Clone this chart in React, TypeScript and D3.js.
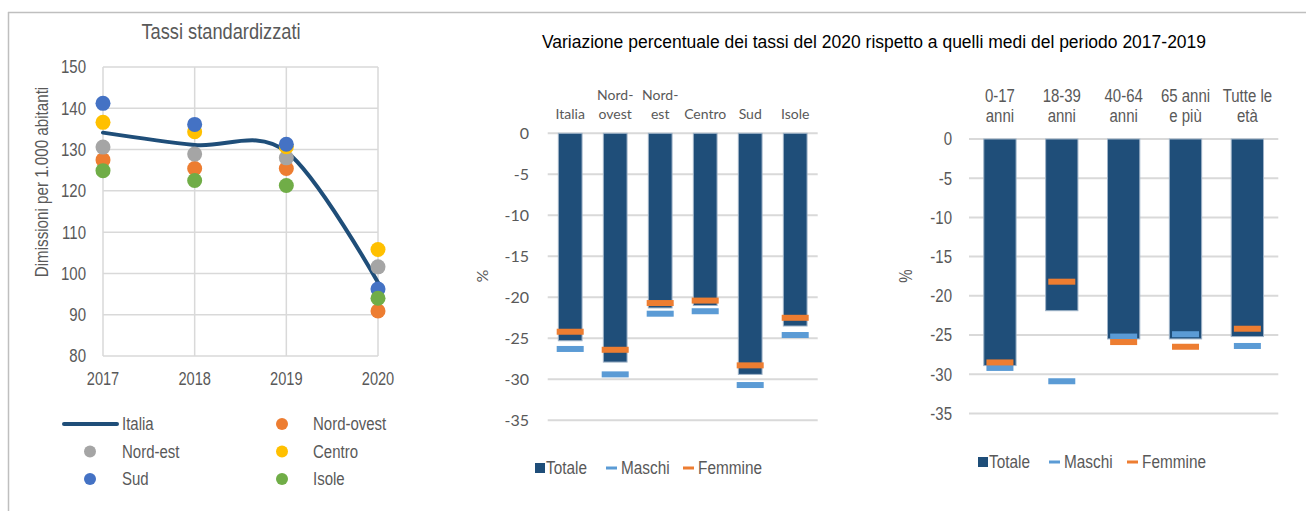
import React from 'react';
import * as d3 from 'd3';

const W = 1306;
const H = 511;

const SANS = "'Liberation Sans', Arial, sans-serif";
const CAL = "Lato, 'Open Sans', sans-serif";
const TXT = '#595959';
const GRID = '#d9d9d9';

// left chart: standardised rates
const years = [2017, 2018, 2019, 2020];
const italia = [134.1, 131.1, 129.5, 97.8];
const nordOvest = [127.5, 125.4, 125.4, 90.9];
const nordEst = [130.6, 128.9, 128.0, 101.6];
const centro = [136.6, 134.3, 130.7, 105.8];
const sud = [141.2, 136.1, 131.3, 96.2];
const isole = [124.9, 122.5, 121.3, 94.0];
const rateTicks = [80, 90, 100, 110, 120, 130, 140, 150];

const regionSeries = [
  { name: 'Nord-ovest', color: '#ed7d31', values: nordOvest },
  { name: 'Nord-est', color: '#a5a5a5', values: nordEst },
  { name: 'Centro', color: '#ffc000', values: centro },
  { name: 'Sud', color: '#4472c4', values: sud },
  { name: 'Isole', color: '#70ad47', values: isole },
];

// middle chart: % change by area
const areas = ['Italia', 'Nord-ovest', 'Nord-est', 'Centro', 'Sud', 'Isole'];
const areaLabels = [['Italia'], ['Nord-', 'ovest'], ['Nord-', 'est'], ['Centro'], ['Sud'], ['Isole']];
const areaTotale = [-25.3, -27.9, -21.3, -21.0, -29.4, -23.5];
const areaMaschi = [-26.3, -29.4, -22.0, -21.7, -30.7, -24.6];
const areaFemmine = [-24.2, -26.4, -20.7, -20.4, -28.3, -22.5];

// right chart: % change by age
const ages = ['0-17', '18-39', '40-64', '65+', 'Tutte'];
const ageLabels = [['0-17', 'anni'], ['18-39', 'anni'], ['40-64', 'anni'], ['65 anni', 'e più'], ['Tutte le', 'età']];
const ageTotale = [-28.9, -21.9, -25.5, -25.5, -25.2];
const ageMaschi = [-29.2, -30.9, -25.2, -24.9, -26.4];
const ageFemmine = [-28.5, -18.2, -25.9, -26.5, -24.2];

const pctTicks = [0, -5, -10, -15, -20, -25, -30, -35];

const NAVY = '#1f4e79';
const BLUE = '#5b9bd5';
const ORANGE = '#ed7d31';

// condensed text (Arial Narrow look-alike)
function NT({ x, y, size = 18.5, sx = 0.81, anchor = 'start', rotate = 0, dy = '0', font = SANS, fill, children }: any) {
  const rot = rotate ? ` rotate(${rotate})` : '';
  return (
    <text transform={`translate(${x},${y})${rot} scale(${sx},1)`} fontSize={size} fontFamily={font}
      textAnchor={anchor} dy={dy} fill={fill}>
      {children}
    </text>
  );
}

function RatesChart() {
  const x = d3.scalePoint<number>().domain(years).range([103, 378]);
  const y = d3.scaleLinear().domain([80, 150]).range([356, 67]);
  const line = d3.line<number>()
    .x((_, i) => x(years[i])!)
    .y(d => y(d))
    .curve(d3.curveCardinal.tension(0));

  const legend = [
    { name: 'Nord-ovest', col: 1, row: 0 },
    { name: 'Nord-est', col: 0, row: 1 },
    { name: 'Centro', col: 1, row: 1 },
    { name: 'Sud', col: 0, row: 2 },
    { name: 'Isole', col: 1, row: 2 },
  ];
  const colX = [90, 282];
  const textX = [122, 313];
  const rowY = [424, 451.5, 479];

  return (
    <g fill={TXT}>
      <NT x={221} y={39} size={22} sx={0.83} anchor="middle">Tassi standardizzati</NT>
      {rateTicks.map(t => (
        <g key={t}>
          <line x1={103} x2={378} y1={y(t)} y2={y(t)} stroke={GRID} strokeWidth={1.5} />
          <NT x={86} y={y(t)} dy="0.35em" anchor="end">{t}</NT>
        </g>
      ))}
      {years.map(yr => (
        <g key={yr}>
          <line x1={x(yr)} x2={x(yr)} y1={67} y2={356} stroke={GRID} strokeWidth={1.5} />
          <NT x={x(yr)} y={385} sx={0.79} anchor="middle">{yr}</NT>
        </g>
      ))}
      <NT x={48} y={182} rotate={-90} anchor="middle" sx={0.82}>Dimissioni per 1.000 abitanti</NT>
      <path d={line(italia) || ''} fill="none" stroke={NAVY} strokeWidth={4} strokeLinecap="round" />
      {regionSeries.map(s =>
        s.values.map((v, i) => (
          <circle key={s.name + i} cx={x(years[i])} cy={y(v)} r={7.5} fill={s.color} />
        ))
      )}
      <line x1={64} x2={117} y1={rowY[0]} y2={rowY[0]} stroke={NAVY} strokeWidth={4} strokeLinecap="round" />
      <NT x={textX[0]} y={rowY[0]} dy="0.35em">Italia</NT>
      {legend.map((l, i) => (
        <g key={l.name}>
          <circle cx={colX[l.col]} cy={rowY[l.row]} r={6} fill={regionSeries[i].color} />
          <NT x={textX[l.col]} y={rowY[l.row]} dy="0.35em">{l.name}</NT>
        </g>
      ))}
    </g>
  );
}

type BarProps = {
  cats: string[];
  labels: string[][];
  totale: number[];
  maschi: number[];
  femmine: number[];
  x0: number;
  x1: number;
  yTop: number;
  yBottom: number;
  pad: number;
  tickX: number;
  calibri: boolean;
  catY: number[];
  pctX: number;
  legendX: number[];
  legendY: number;
};

function BarChart(p: BarProps) {
  const x = d3.scaleBand().domain(p.cats).range([p.x0, p.x1]).paddingInner(p.pad).paddingOuter(p.pad / 2);
  const y = d3.scaleLinear().domain([-35, 0]).range([p.yBottom, p.yTop]);
  const dashW = 27;
  const dashH = 6;
  const catYs = (n: number) => (n === 1 ? [p.catY[1]] : p.catY);
  const tick = (t: number) => p.calibri
    ? <NT x={p.tickX} y={y(t)} dy="0.35em" anchor="end" size={16} sx={1} font={CAL}>{t}</NT>
    : <NT x={p.tickX} y={y(t)} dy="0.35em" anchor="end">{t}</NT>;
  const cat = (cx: number, cy: number, l: string) => p.calibri
    ? <NT x={cx} y={cy} anchor="middle" size={14} sx={1} font={CAL}>{l}</NT>
    : <NT x={cx} y={cy} anchor="middle">{l}</NT>;
  return (
    <g fill={TXT}>
      {pctTicks.map(t => (
        <g key={t}>
          <line x1={p.x0} x2={p.x1} y1={y(t)} y2={y(t)} stroke={GRID} strokeWidth={2} />
          {tick(t)}
        </g>
      ))}
      <NT x={p.pctX} y={276} rotate={-90} anchor="middle" size={p.calibri ? 16 : 18.5} sx={p.calibri ? 1 : 0.81} font={p.calibri ? CAL : SANS}>%</NT>
      {p.cats.map((c, i) => {
        const bx = x(c)!;
        const cx = bx + x.bandwidth() / 2;
        const ys = catYs(p.labels[i].length);
        return (
          <g key={c}>
            {p.labels[i].map((l, j) => <g key={j}>{cat(cx, ys[j], l)}</g>)}
            <rect x={bx} y={y(0)} width={x.bandwidth()} height={y(p.totale[i]) - y(0)} fill={NAVY} stroke="#9fb3c8" strokeWidth={1} />
            <rect x={cx - dashW / 2} y={y(p.maschi[i]) - dashH / 2} width={dashW} height={dashH} fill={BLUE} />
            <rect x={cx - dashW / 2} y={y(p.femmine[i]) - dashH / 2} width={dashW} height={dashH} fill={ORANGE} />
          </g>
        );
      })}
      <rect x={p.legendX[0]} y={p.legendY - 5} width={10} height={10} fill={NAVY} />
      <NT x={p.legendX[0] + 11} y={p.legendY} dy="0.35em" sx={0.83}>Totale</NT>
      <rect x={p.legendX[1]} y={p.legendY - 1.5} width={11} height={3} fill={BLUE} />
      <NT x={p.legendX[1] + 15} y={p.legendY} dy="0.35em" sx={0.83}>Maschi</NT>
      <rect x={p.legendX[2]} y={p.legendY - 1.5} width={11} height={3} fill={ORANGE} />
      <NT x={p.legendX[2] + 15} y={p.legendY} dy="0.35em" sx={0.83}>Femmine</NT>
    </g>
  );
}

export default function App() {
  return (
    <svg width={W} height={H} viewBox={`0 0 ${W} ${H}`} style={{ position: 'absolute', left: 0, top: 0, background: '#fff' }}>
      <line x1={8} x2={W} y1={12.5} y2={12.5} stroke="#bfbfbf" strokeWidth={1.5} />
      <line x1={8.5} x2={8.5} y1={12} y2={H} stroke="#bfbfbf" strokeWidth={1.5} />
      <RatesChart />
      <text x={874} y={48} fontSize={17.5} fontFamily={SANS} textAnchor="middle" fill="#000">
        Variazione percentuale dei tassi del 2020 rispetto a quelli medi del periodo 2017-2019
      </text>
      <BarChart
        cats={areas} labels={areaLabels} totale={areaTotale} maschi={areaMaschi} femmine={areaFemmine}
        x0={547.7} x1={817.7} yTop={133.3} yBottom={420.3} pad={0.473}
        tickX={529} calibri={true} catY={[100, 119]}
        pctX={488} legendX={[535, 606, 683]} legendY={468}
      />
      <BarChart
        cats={ages} labels={ageLabels} totale={ageTotale} maschi={ageMaschi} femmine={ageFemmine}
        x0={969} x1={1278.3} yTop={139} yBottom={413.4} pad={0.478}
        tickX={952} calibri={false} catY={[101.7, 121.7]}
        pctX={912} legendX={[978, 1049, 1127]} legendY={462}
      />
    </svg>
  );
}
